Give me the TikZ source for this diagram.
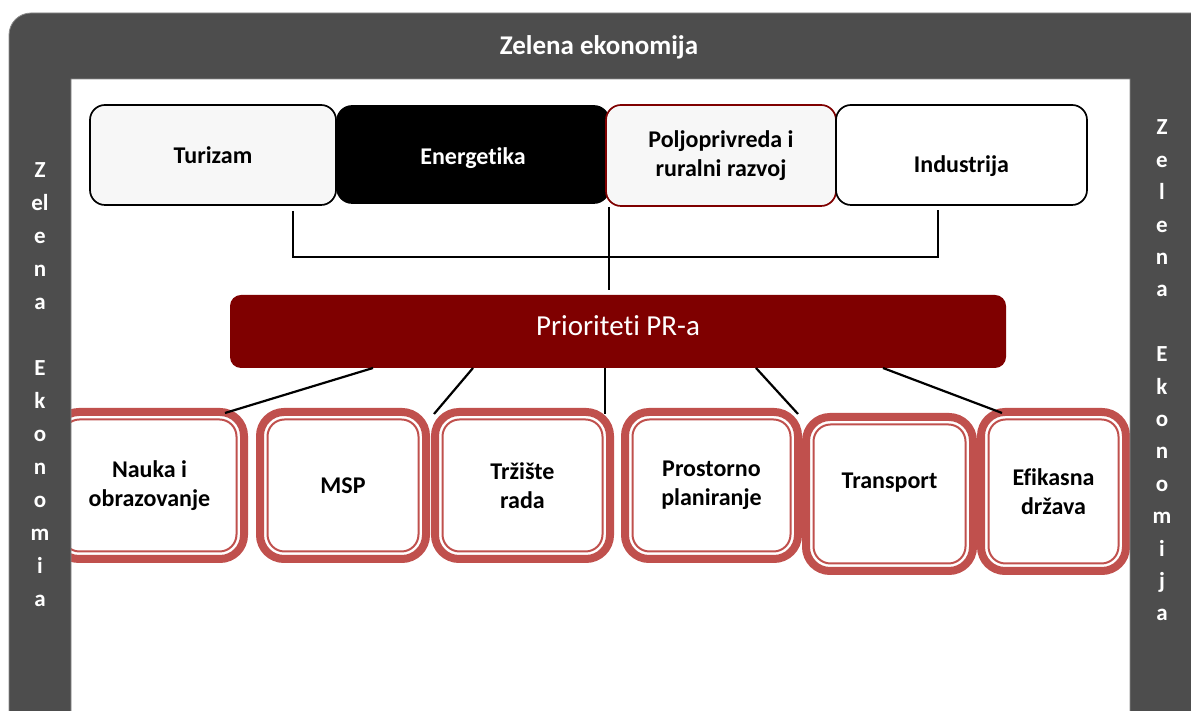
\documentclass[tikz,border=0pt]{standalone}
\usepackage{fontspec}
\setmainfont[Ligatures=NoCommon]{Carlito}
\usepackage{tikz}
\usetikzlibrary{positioning, calc}
\definecolor{framegray}{RGB}{77,77,77}
\definecolor{maroon}{RGB}{127,0,0}
\definecolor{areared}{RGB}{192,80,77}
\definecolor{lightfill}{RGB}{247,247,247}

\begin{document}
\begin{tikzpicture}[x=1pt,y=1pt]

	\tikzstyle{link} = [line width=2.2pt]
	\tikzstyle{sector} = [draw, rounded corners=15pt, line width=1.7pt, inner sep=0pt, outer sep=0pt, align=center, font=\fontsize{24}{29}\selectfont\bfseries]
	\tikzstyle{area} = [draw=areared, fill=white, line width=8pt, rounded corners=24pt, inner sep=0pt, outer sep=0pt, align=center, font=\fontsize{24}{29}\selectfont\bfseries]
	\tikzstyle{band} = [text=white, inner sep=0pt, anchor=base, font=\fontsize{23}{28}\selectfont\bfseries]

	\useasboundingbox (0,0) rectangle (1191,711);
	\fill[white] (0,0) rectangle (1191,711);

	\node[sector, fill=lightfill, minimum width=246pt, minimum height=100pt] (tur) at (213,556) {Turizam};
	\node[sector, fill=black, text=white, minimum width=272pt, minimum height=97pt, text height=26pt, text depth=5pt] (ene) at (473,556.5) {Energetika};
	\node[sector, draw=maroon, fill=lightfill, minimum width=230pt, minimum height=101pt] (pol) at (721,555.5) {Poljoprivreda i\\ruralni razvoj};
	\node[sector, fill=white, minimum width=251pt, minimum height=100pt, text height=40pt, text depth=5pt] (ind) at (961.5,556) {Industrija};

	\node[fill=maroon, rounded corners=11pt, minimum width=776pt, minimum height=73pt, inner sep=0pt, outer sep=0pt, text=white, text height=20pt, text depth=12pt, font=\fontsize{29}{34}\selectfont] (prio) at (618,379.5) {Prioriteti PR-a};

	\draw[link] ([xshift=80pt,yshift=-6pt]tur.south) -- ++(0,-46) -| ([xshift=-23.5pt,yshift=-5pt]ind.south);
	\draw[link] ([xshift=3pt,yshift=-1pt]pol.south west) -- ([xshift=-9pt,yshift=5pt]prio.north);

	\node[area, minimum width=189pt, minimum height=147pt] (nauka) at (149.5,225.5) {Nauka i\\obrazovanje};
	\node[area, minimum width=166pt, minimum height=147pt] (msp) at (343,225.5) {MSP};
	\node[area, minimum width=175pt, minimum height=147pt] (trz) at (522.5,225.5) {Tržište\\rada};
	\node[area, minimum width=173pt, minimum height=147pt] (pros) at (711.5,225.5) {Prostorno\\planiranje};
	\node[area, minimum width=167pt, minimum height=154pt, text height=15pt, text depth=26pt] (trans) at (889.5,217) {Transport};
	\node[area, minimum width=145pt, minimum height=159pt] (efik) at (1053.5,219.5) {Efikasna\\država};
	\foreach \nd in {nauka,msp,trz,pros,trans,efik}
		\draw[draw=areared, line width=2pt, rounded corners=17pt] ($(\nd.north west)+(7.5,-7.5)$) rectangle ($(\nd.south east)+(-7.5,7.5)$);

	\draw[link] ([xshift=143pt]prio.south west) -- ([xshift=-19pt,yshift=-1pt]nauka.north east);
	\draw[link] ([xshift=243pt]prio.south west) -- ([xshift=8pt,yshift=-2pt]msp.north east);
	\draw[link] ([xshift=375pt]prio.south west) -- ([xshift=-5pt,yshift=-2pt]trz.north east);
	\draw[link] ([xshift=526pt]prio.south west) -- ([yshift=-2pt]pros.north east);
	\draw[link] ([xshift=653pt]prio.south west) -- ([xshift=21pt,yshift=-1pt]efik.north west);

	\begin{scope}
		\clip (0,0) rectangle (1191,711);
		\fill[framegray, even odd rule, draw=black!45, line width=0.8pt] [rounded corners=22pt] (9,-40) -- (9,698) -- (1260,698) -- (1260,-40) -- cycle [sharp corners] (71,-40) rectangle (1130,632);
	\end{scope}

	\node[band, font=\fontsize{27}{32}\selectfont\bfseries] (title) at (599,656.5) {Zelena ekonomija};
	\foreach \ch/\k in {Z/0,el/1,e/2,n/3,a/4,E/6,k/7,o/8,n/9,o/10,m/11,i/12,a/13}
		\node[band] (left\k) at (40,{533-33*\k}) {\ch};
	\foreach \ch/\k in {Z/0,e/1,l/2,e/3,n/4,a/5,E/7,k/8,o/9,n/10,o/11,m/12,i/13,j/14,a/15}
		\node[band] (right\k) at (1162,{576-32.4*\k}) {\ch};

\end{tikzpicture}
\end{document}
